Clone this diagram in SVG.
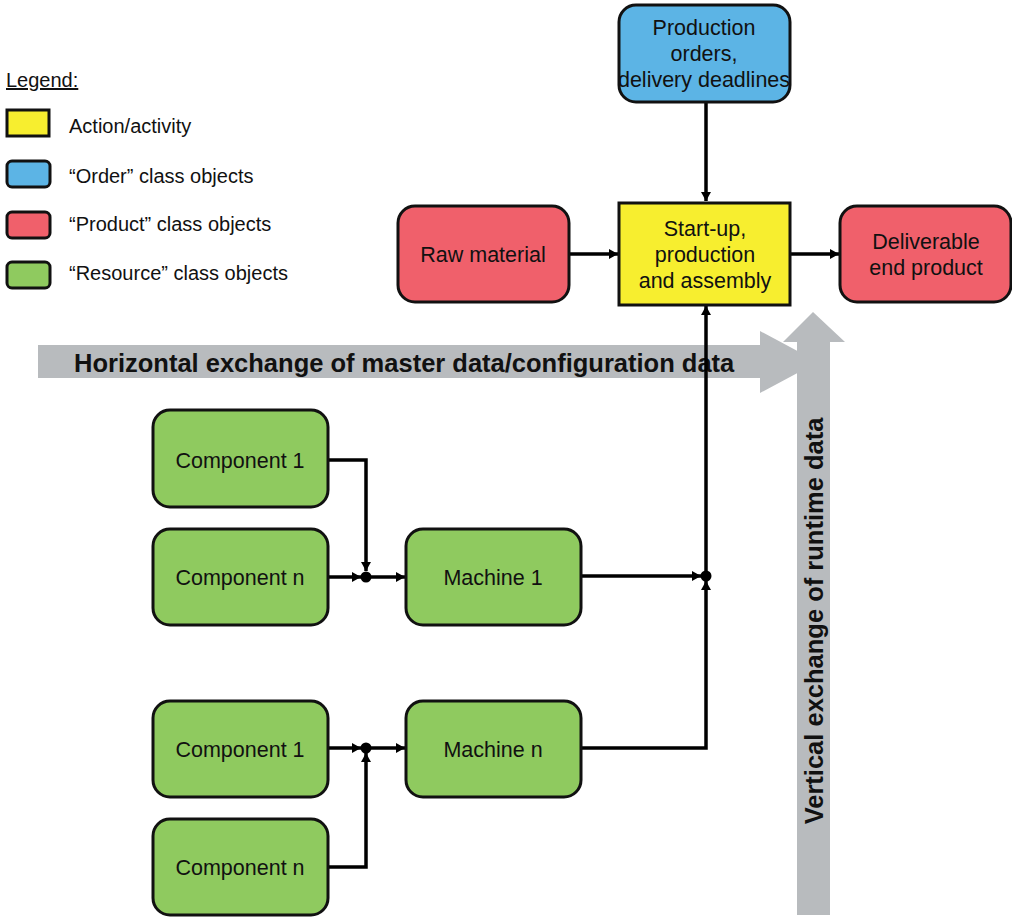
<svg xmlns="http://www.w3.org/2000/svg" width="1012" height="917" viewBox="0 0 1012 917">
<style>
text{font-family:"Liberation Sans",Arial,sans-serif;fill:#111;}
.lbl{font-size:21.5px;text-anchor:middle;}
.leg{font-size:20px;}
.big{font-size:25.5px;font-weight:bold;}
.box{stroke:#111;stroke-width:3;}
.y{fill:#F7EE2F;}
.b{fill:#5CB4E5;}
.r{fill:#F0606B;}
.g{fill:#8FCA5F;}
.ln{fill:none;stroke:#000;stroke-width:3.5;}
.gray{fill:#B8BBBE;}
</style>
<defs>
<marker id="ah" markerWidth="9" markerHeight="10" refX="9" refY="5" orient="auto" markerUnits="userSpaceOnUse" viewBox="0 0 9 10">
<path d="M0,0 L9,5 L0,10 Z" fill="#000"/>
</marker>
</defs>
<rect width="1012" height="917" fill="#fff"/>

<g id="legend">
<text x="6" y="87" class="leg" text-decoration="underline">Legend:</text>
<rect x="7" y="110" width="42" height="26" class="box y"/>
<text x="69" y="133" class="leg">Action/activity</text>
<rect x="7" y="161" width="43" height="26" rx="5" class="box b"/>
<text x="69" y="183" class="leg">“Order” class objects</text>
<rect x="7" y="212" width="43" height="26" rx="5" class="box r"/>
<text x="69" y="231" class="leg">“Product” class objects</text>
<rect x="7" y="262" width="43" height="26" rx="5" class="box g"/>
<text x="69" y="280" class="leg">“Resource” class objects</text>
</g>

<g id="hArrow">
<path d="M38,345 L760,345 L760,331 L818,362 L760,393 L760,378 L38,378 Z" class="gray"/>
<text x="74" y="372" class="big">Horizontal exchange of master data/configuration data</text>
</g>
<g id="vArrow">
<path d="M797,915 L797,342 L783,342 L813,312 L845,342 L830,342 L830,915 Z" class="gray"/>
<text transform="translate(823,621) rotate(-90)" class="big" text-anchor="middle">Vertical exchange of runtime data</text>
</g>

<g id="connectors">
<path d="M706,102 L706,201" class="ln" marker-end="url(#ah)"/>
<path d="M569,254 L618,254" class="ln" marker-end="url(#ah)"/>
<path d="M790,254 L839,254" class="ln" marker-end="url(#ah)"/>
<path d="M706,576 L706,306" class="ln" marker-end="url(#ah)"/>
<path d="M328,460 L366,460 L366,571" class="ln" marker-end="url(#ah)"/>
<path d="M328,577 L361,577" class="ln" marker-end="url(#ah)"/>
<path d="M366,577 L405,577" class="ln" marker-end="url(#ah)"/>
<path d="M581,576 L701,576" class="ln" marker-end="url(#ah)"/>
<path d="M328,748 L361,748" class="ln" marker-end="url(#ah)"/>
<path d="M328,867 L366,867 L366,753" class="ln" marker-end="url(#ah)"/>
<path d="M366,748 L405,748" class="ln" marker-end="url(#ah)"/>
<path d="M581,748 L706,748 L706,581" class="ln" marker-end="url(#ah)"/>
<circle cx="366" cy="577" r="5.5" fill="#000"/>
<circle cx="366" cy="748" r="5.5" fill="#000"/>
<circle cx="706" cy="576" r="5.5" fill="#000"/>
</g>

<g id="orders">
<rect x="619" y="5" width="171" height="97" rx="17" class="box b"/>
<text class="lbl" x="704" y="35">Production</text>
<text class="lbl" x="704" y="61">orders,</text>
<text class="lbl" x="704" y="87">delivery deadlines</text>
</g>
<g id="startup">
<rect x="619" y="203" width="171" height="102" class="box y"/>
<text class="lbl" x="705" y="236">Start-up,</text>
<text class="lbl" x="705" y="262">production</text>
<text class="lbl" x="705" y="288">and assembly</text>
</g>
<g id="raw">
<rect x="398" y="206" width="171" height="96" rx="17" class="box r"/>
<text class="lbl" x="483" y="262">Raw material</text>
</g>
<g id="deliverable">
<rect x="840" y="206" width="171" height="96" rx="17" class="box r"/>
<text class="lbl" x="926" y="249">Deliverable</text>
<text class="lbl" x="926" y="275">end product</text>
</g>
<g id="comp1a">
<rect x="153" y="410" width="175" height="97" rx="17" class="box g"/>
<text class="lbl" x="240" y="468">Component 1</text>
</g>
<g id="compna">
<rect x="153" y="529" width="175" height="96" rx="17" class="box g"/>
<text class="lbl" x="240" y="585">Component n</text>
</g>
<g id="machine1">
<rect x="406" y="529" width="175" height="96" rx="17" class="box g"/>
<text class="lbl" x="493" y="585">Machine 1</text>
</g>
<g id="comp1b">
<rect x="153" y="701" width="175" height="96" rx="17" class="box g"/>
<text class="lbl" x="240" y="757">Component 1</text>
</g>
<g id="compnb">
<rect x="153" y="819" width="175" height="96" rx="17" class="box g"/>
<text class="lbl" x="240" y="875">Component n</text>
</g>
<g id="machinen">
<rect x="406" y="701" width="175" height="96" rx="17" class="box g"/>
<text class="lbl" x="493" y="757">Machine n</text>
</g>
</svg>
